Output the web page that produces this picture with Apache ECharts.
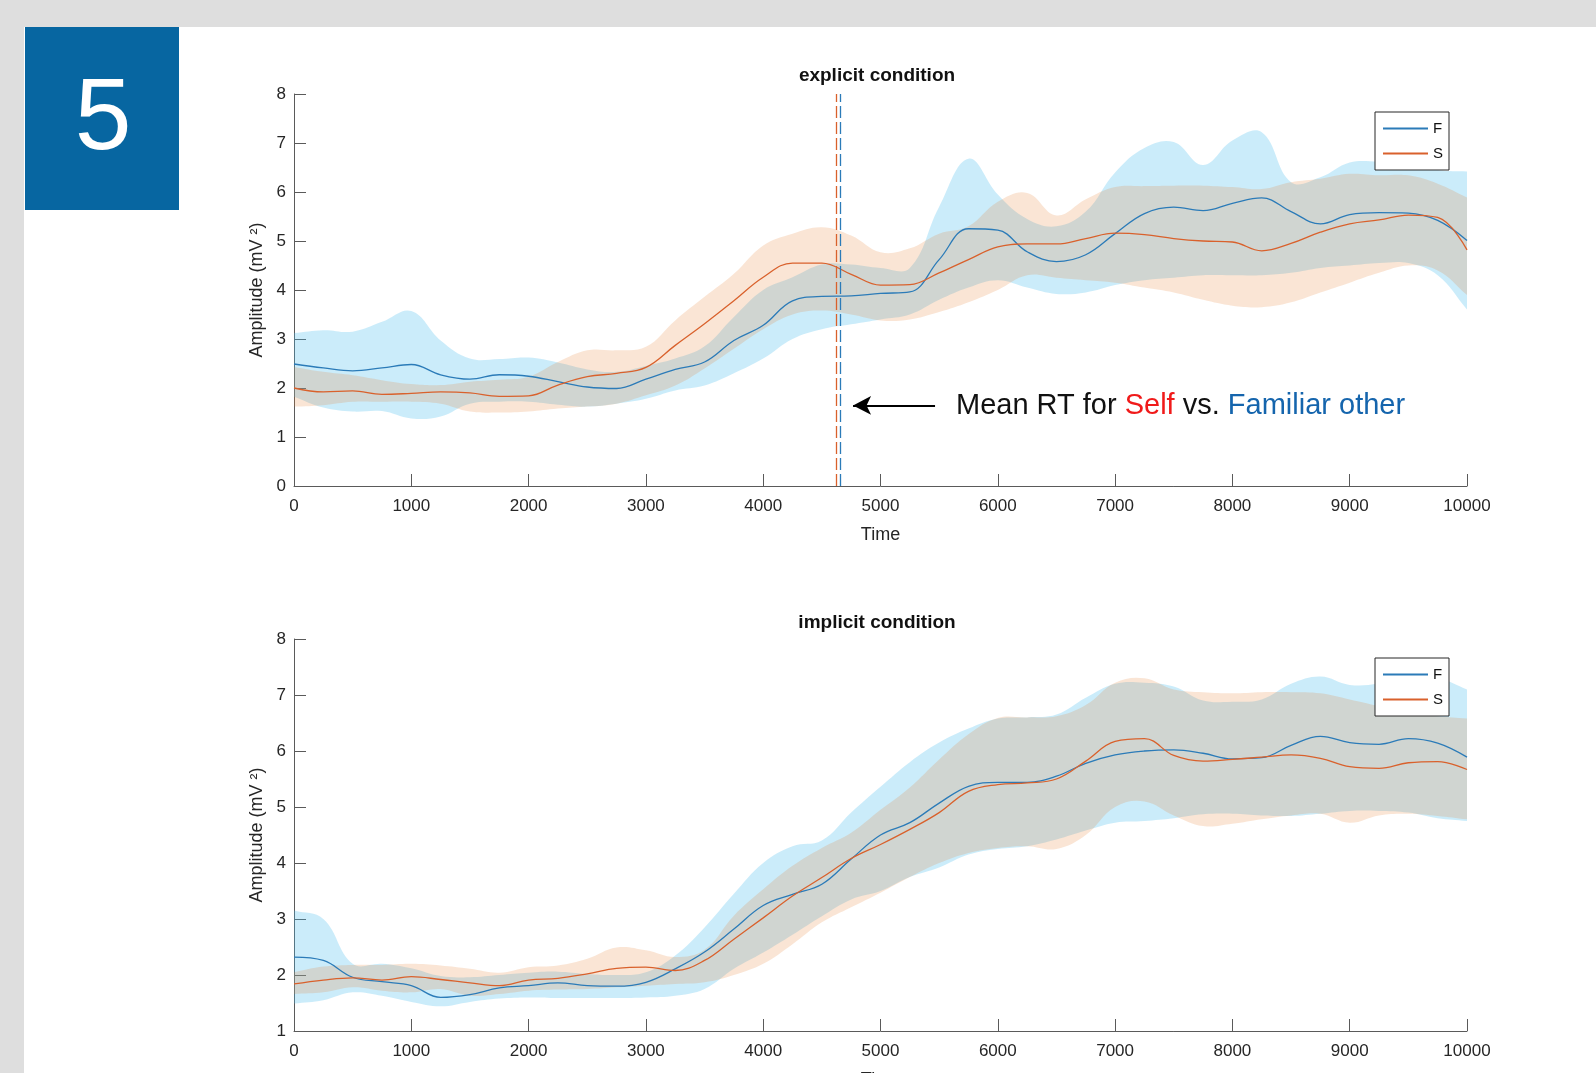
<!DOCTYPE html>
<html><head><meta charset="utf-8">
<script src="https://cdn.jsdelivr.net/npm/echarts@6/dist/echarts.min.js"></script>
<style>html,body{margin:0;padding:0;background:#dedede;}#c{width:1596px;height:1073px;}</style>
</head><body><div id="c"></div>
<script>
// ---------- data ----------
const timeMs = [0,250,500,750,1000,1250,1500,1750,2000,2250,2500,2750,3000,3250,3500,3750,4000,4250,4500,4750,5000,5250,5500,5750,6000,6250,6500,6750,7000,7250,7500,7750,8000,8250,8500,8750,9000,9250,9500,9750,10000];

// explicit condition
const expFMean = [2.49,2.41,2.35,2.41,2.48,2.27,2.18,2.27,2.24,2.13, 2.02,1.99,2.18,2.38,2.53,2.97,3.28,3.78,3.87,3.88, 3.93,3.96,4.62,5.25,5.22,4.78,4.58,4.72,5.15,5.56, 5.69,5.62,5.77,5.88,5.60,5.35,5.54,5.58,5.57,5.42, 5.01];
const expFLow  = [1.82,1.60,1.52,1.53,1.38,1.42,1.68,1.72,1.72,1.66, 1.62,1.68,1.78,1.95,2.05,2.30,2.60,3.00,3.20,3.30, 3.40,3.50,3.80,4.05,4.20,4.05,3.92,3.95,4.10,4.20, 4.25,4.30,4.30,4.30,4.35,4.45,4.50,4.55,4.55,4.30, 3.60];
const expFHigh = [3.12,3.18,3.15,3.35,3.57,2.97,2.60,2.59,2.62,2.52, 2.38,2.33,2.45,2.60,2.85,3.45,4.00,4.26,4.52,4.52, 4.45,4.45,5.70,6.68,5.95,5.45,5.30,5.60,6.40,6.90, 7.02,6.55,7.05,7.22,6.20,6.30,6.60,6.62,6.60,6.45, 6.42];
const expSMean = [2.00,1.92,1.94,1.87,1.89,1.92,1.90,1.83,1.84,2.06, 2.23,2.30,2.42,2.87,3.31,3.78,4.26,4.55,4.55,4.32, 4.10,4.11,4.35,4.62,4.88,4.94,4.94,5.05,5.16,5.13, 5.05,5.00,4.98,4.80,4.95,5.18,5.35,5.43,5.53,5.48, 4.82];
const expSLow  = [1.62,1.65,1.72,1.72,1.72,1.68,1.52,1.50,1.52,1.58, 1.62,1.68,1.85,2.05,2.40,2.80,3.20,3.50,3.58,3.50, 3.38,3.40,3.55,3.75,4.00,4.30,4.25,4.20,4.15,4.05, 3.95,3.80,3.68,3.65,3.75,3.95,4.15,4.35,4.50,4.40, 3.90];
const expSHigh = [2.43,2.33,2.26,2.16,2.08,2.06,2.13,2.17,2.23,2.53, 2.77,2.77,2.84,3.38,3.86,4.33,4.91,5.15,5.28,5.11, 4.77,4.85,5.15,5.30,5.80,5.98,5.52,5.85,6.10,6.12, 6.13,6.13,6.10,6.06,6.20,6.27,6.37,6.34,6.34,6.17, 5.89];

// implicit condition
const impFMean = [2.32,2.26,1.96,1.88,1.81,1.60,1.65,1.77,1.81,1.86, 1.81,1.80,1.87,2.11,2.41,2.82,3.24,3.44,3.62,4.07, 4.50,4.72,5.07,5.37,5.44,5.44,5.55,5.78,5.93,6.00, 6.02,5.96,5.86,5.88,6.10,6.26,6.15,6.12,6.22,6.14, 5.89];
const impFLow  = [1.49,1.55,1.69,1.63,1.52,1.44,1.52,1.58,1.60,1.59, 1.59,1.59,1.60,1.63,1.75,2.11,2.40,2.72,3.05,3.35, 3.50,3.75,3.92,4.15,4.25,4.30,4.42,4.58,4.72,4.75, 4.80,4.87,4.88,4.85,4.84,4.88,4.93,4.93,4.90,4.80, 4.75];
const impFHigh = [3.15,3.00,2.20,2.20,2.12,1.98,1.96,2.00,2.04,2.06, 2.02,2.00,2.05,2.35,2.85,3.45,4.00,4.30,4.40,4.90, 5.36,5.80,6.15,6.40,6.58,6.60,6.65,6.95,7.20,7.22, 7.15,6.90,6.88,6.92,7.20,7.33,7.18,7.20,7.28,7.30, 7.10];
const impSMean = [1.84,1.91,1.95,1.91,1.97,1.92,1.86,1.81,1.91,1.94, 2.02,2.12,2.14,2.08,2.26,2.64,3.02,3.41,3.74,4.08, 4.33,4.60,4.90,5.28,5.40,5.43,5.50,5.82,6.17,6.22, 5.92,5.82,5.85,5.89,5.93,5.87,5.72,5.69,5.79,5.81, 5.67];
const impSLow  = [1.66,1.69,1.78,1.72,1.69,1.75,1.63,1.66,1.72,1.74, 1.75,1.78,1.81,1.84,1.87,2.00,2.20,2.55,2.94,3.21, 3.47,3.75,4.00,4.18,4.27,4.30,4.25,4.50,5.00,5.10, 4.85,4.66,4.70,4.78,4.85,4.88,4.72,4.85,4.88,4.84, 4.78];
const impSHigh = [2.05,2.15,2.18,2.18,2.20,2.17,2.11,2.04,2.14,2.17, 2.29,2.49,2.44,2.32,2.45,3.06,3.53,3.95,4.27,4.54, 4.95,5.35,5.85,6.30,6.59,6.60,6.62,6.82,7.22,7.30, 7.10,7.05,7.03,7.05,7.05,7.03,6.92,6.80,6.68,6.62, 6.58];

// mean reaction times (explicit condition)
const rtSelf = 4627;
const rtFamiliar = 4660;

// annotation arrow anchor (data units of the explicit panel)
const arrowStart = [5465, 1.645];
const arrowEnd = [4766, 1.645];

const titles = ['explicit condition', 'implicit condition'];
const legendNames = ['F', 'S'];

// ---------- styling ----------
const FONT = "'Liberation Sans', Arial, Helvetica, sans-serif";
const BLUE = '#2b7bb8';
const ORANGE = '#d9612c';
const BLUE_FILL = 'rgba(77,190,238,0.29)';
const ORANGE_FILL = 'rgba(230,125,45,0.20)';
const AXIS = '#5a5a5a';
const TXT = '#262626';

const chart = echarts.init(document.getElementById('c'), null, {renderer: 'canvas'});

function band(name, gi, lo, hi, fill) {
  return {
    type: 'custom', name: name, xAxisIndex: gi, yAxisIndex: gi, silent: true, clip: true,
    data: timeMs.map((t, i) => [t, lo[i], hi[i]]),
    encode: {x: 0, y: [1, 2]},
    renderItem: function (params, api) {
      if (params.dataIndexInside !== 0) return null;
      const up = timeMs.map((t, i) => api.coord([t, hi[i]]));
      const dn = timeMs.map((t, i) => api.coord([t, lo[i]])).reverse();
      const pts = [up[0]].concat(up, [up[up.length - 1]], [dn[0]], dn, [dn[dn.length - 1]]);
      return {type: 'polygon', shape: {points: pts, smooth: 0.4}, style: {fill: fill}};
    }
  };
}

function meanLine(name, gi, vals, color, extra) {
  const s = {
    type: 'line', name: name, xAxisIndex: gi, yAxisIndex: gi,
    data: timeMs.map((t, i) => [t, vals[i]]),
    symbol: 'none', showSymbol: false, smooth: 0.4,
    lineStyle: {color: color, width: 1.3}, itemStyle: {color: color},
    emphasis: {disabled: true}
  };
  return Object.assign(s, extra || {});
}

function xAx(gi) {
  return {
    type: 'value', gridIndex: gi, min: 0, max: 10000, interval: 1000,
    name: 'Time', nameLocation: 'middle', nameGap: 40,
    nameTextStyle: {fontSize: 18, color: TXT, fontFamily: FONT},
    axisLine: {lineStyle: {color: AXIS, width: 1}},
    axisTick: {inside: true, length: 12, lineStyle: {color: AXIS}},
    axisLabel: {fontSize: 17, color: TXT, fontFamily: FONT, margin: 12, formatter: v => String(v)},
    splitLine: {show: false}
  };
}
function yAx(gi, min) {
  return {
    type: 'value', gridIndex: gi, min: min, max: 8, interval: 1,
    name: 'Amplitude (mV \u00B2)', nameLocation: 'middle', nameGap: 26, nameRotate: 90,
    nameTextStyle: {fontSize: 18, color: TXT, fontFamily: FONT},
    axisLine: {show: true, lineStyle: {color: AXIS, width: 1}},
    axisTick: {show: true, inside: true, length: 12, lineStyle: {color: AXIS}},
    axisLabel: {fontSize: 17, color: TXT, fontFamily: FONT, margin: 8},
    splitLine: {show: false}
  };
}
function legendAt(top) {
  return {
    data: legendNames, orient: 'vertical', left: 1375, top: top,
    itemWidth: 45, itemHeight: 14, itemGap: 10, padding: [9, 6, 9, 7],
    borderColor: '#262626', borderWidth: 1, backgroundColor: '#ffffff', borderRadius: 0,
    selectedMode: false,
    itemStyle: {opacity: 0, borderWidth: 0},
    textStyle: {fontSize: 15, color: '#111', fontFamily: FONT}
  };
}

const option = {
  backgroundColor: '#dedede',
  animation: false,
  title: [
    {text: titles[0], left: 877, top: 66, textAlign: 'center', padding: 0,
     textStyle: {fontSize: 19, fontWeight: 'bold', color: '#111', fontFamily: FONT}},
    {text: titles[1], left: 877, top: 613, textAlign: 'center', padding: 0,
     textStyle: {fontSize: 19, fontWeight: 'bold', color: '#111', fontFamily: FONT}}
  ],
  legend: [legendAt(112), legendAt(658)],
  grid: [
    {left: 294, top: 94, width: 1173, height: 392, outerBoundsMode: 'none', containLabel: false},
    {left: 294, top: 639, width: 1173, height: 392, outerBoundsMode: 'none', containLabel: false}
  ],
  xAxis: [xAx(0), xAx(1)],
  yAxis: [yAx(0, 0), yAx(1, 1)],
  graphic: [
    {type: 'rect', z: -100, silent: true, shape: {x: 24, y: 27, width: 1572, height: 1046}, style: {fill: '#ffffff'}},
    {type: 'rect', z: -99, silent: true, shape: {x: 25, y: 27, width: 154, height: 183}, style: {fill: '#0766a1'}},
    {type: 'text', z: -98, silent: true, x: 103, y: 121,
     style: {text: '5', fill: '#ffffff', font: "102px " + FONT, align: 'center', verticalAlign: 'middle'}},
    {type: 'text', z: 100, silent: true, x: 956, y: 406,
     style: {
       text: '{k|Mean RT for }{r|Self}{k| vs. }{b|Familiar other}',
       verticalAlign: 'middle', align: 'left',
       rich: {
         k: {fill: '#111111', fontSize: 29, fontFamily: FONT},
         r: {fill: '#f01a1a', fontSize: 29, fontFamily: FONT},
         b: {fill: '#1565ad', fontSize: 29, fontFamily: FONT}
       }
     }}
  ],
  series: [
    band('F band explicit', 0, expFLow, expFHigh, BLUE_FILL),
    band('S band explicit', 0, expSLow, expSHigh, ORANGE_FILL),
    meanLine('F', 0, expFMean, BLUE),
    meanLine('S', 0, expSMean, ORANGE, {
      markLine: {
        silent: true, animation: false, symbol: ['none', 'none'], label: {show: false},
        emphasis: {disabled: true},
        data: [
          {xAxis: rtSelf, lineStyle: {color: ORANGE, type: [12, 4], width: 1.3}},
          {xAxis: rtFamiliar, lineStyle: {color: BLUE, type: [12, 4], width: 1.3}},
          [
            {coord: arrowStart, symbol: 'none', lineStyle: {color: '#000', type: 'solid', width: 2}},
            {coord: arrowEnd, symbol: 'arrow', symbolSize: [14, 18], itemStyle: {color: '#000'}, lineStyle: {color: '#000', type: 'solid', width: 2}}
          ]
        ]
      }
    }),
    band('F band implicit', 1, impFLow, impFHigh, BLUE_FILL),
    band('S band implicit', 1, impSLow, impSHigh, ORANGE_FILL),
    meanLine('F', 1, impFMean, BLUE),
    meanLine('S', 1, impSMean, ORANGE)
  ]
};
chart.setOption(option);
</script></body></html>
